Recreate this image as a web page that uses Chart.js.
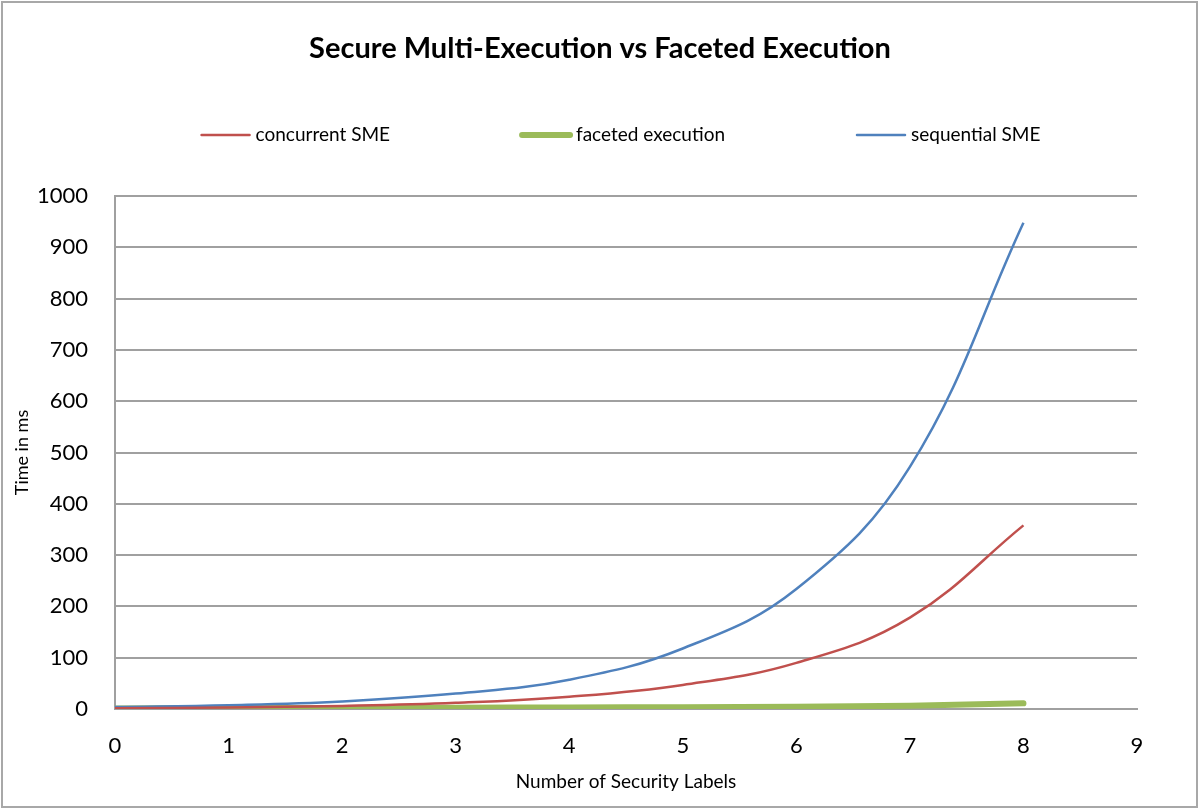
<!DOCTYPE html>
<html>
<head>
<meta charset="utf-8">
<script src="https://cdn.jsdelivr.net/npm/chart.js@4/dist/chart.umd.min.js"></script>
<style>
  html, body { margin: 0; padding: 0; background: #fff; }
  #wrap { width: 1199px; height: 809px; }
</style>
</head>
<body>
<div id="wrap"><canvas id="c" width="1199" height="809"></canvas></div>
<script>
const chartTitle = "Secure Multi-Execution vs Faceted Execution";
const xTitle = "Number of Security Labels";
const yTitle = "Time in ms";
const xValues = [0, 1, 2, 3, 4, 5, 6, 7, 8];
const concurrentSME = [1.5, 3, 6, 12, 24, 47, 90, 178, 358];
const facetedExecution = [1, 1.5, 2, 2.5, 3, 3.5, 4.5, 6.5, 11];
const sequentialSME = [3.7, 7.4, 14.8, 30, 57, 118, 234, 472, 948];
const seriesNames = ["concurrent SME", "faceted execution", "sequential SME"];
const seriesColors = ["#C0504D", "#9BBB59", "#4F81BD"];
const seriesWidths = [2.5, 6, 2.5];

const FONT = "Lato, 'Open Sans', sans-serif";
const GRID = "#a0a0a0";

function pts(vals) { return xValues.map((x, i) => ({ x: x, y: vals[i] })); }

const decor = {
  id: 'decor',
  beforeDraw(chart) {
    const ctx = chart.ctx;
    ctx.save();
    ctx.fillStyle = '#fff';
    ctx.fillRect(0, 0, chart.width, chart.height);
    ctx.strokeStyle = '#a8a8a8';
    ctx.lineWidth = 2;
    ctx.strokeRect(2, 2, chart.width - 4, chart.height - 4);
    ctx.restore();
  },
  afterDraw(chart) {
    const ctx = chart.ctx;
    ctx.save();
    // title
    ctx.fillStyle = '#000';
    ctx.font = "bold 29px " + FONT;
    ctx.textAlign = 'center';
    ctx.textBaseline = 'middle';
    ctx.fillText(chartTitle, 600, 49);
    // legend
    ctx.font = "19px " + FONT;
    const lineLen = 52, gapLT = 4, gapItems = 130;
    const ds = chart.data.datasets;
    const widths = ds.map(d => lineLen + gapLT + ctx.measureText(d.label).width);
    const total = widths.reduce((a, b) => a + b, 0) + gapItems * (ds.length - 1);
    let x = 620 - total / 2;
    const y = 135;
    ds.forEach((d, i) => {
      ctx.strokeStyle = d.borderColor;
      ctx.lineWidth = d.borderWidth;
      ctx.lineCap = 'round';
      ctx.beginPath();
      ctx.moveTo(x + 2, y);
      ctx.lineTo(x + lineLen - 2, y);
      ctx.stroke();
      ctx.fillStyle = '#000';
      ctx.textAlign = 'left';
      ctx.textBaseline = 'middle';
      ctx.fillText(d.label, x + lineLen + gapLT, y);
      x += widths[i] + gapItems;
    });
    ctx.restore();
  }
};

new Chart(document.getElementById('c'), {
  type: 'line',
  data: {
    datasets: [
      { label: seriesNames[0], data: pts(concurrentSME), borderColor: seriesColors[0], borderWidth: seriesWidths[0], order: 1 },
      { label: seriesNames[1], data: pts(facetedExecution), borderColor: seriesColors[1], borderWidth: seriesWidths[1], order: 3, borderCapStyle: 'round' },
      { label: seriesNames[2], data: pts(sequentialSME), borderColor: seriesColors[2], borderWidth: seriesWidths[2], order: 2 }
    ]
  },
  options: {
    responsive: false,
    animation: false,
    events: [],
    layout: { padding: { top: 196, left: 0, right: 62, bottom: 0 } },
    elements: {
      point: { radius: 0, hoverRadius: 0 },
      line: { tension: 0.4, fill: false, cubicInterpolationMode: 'default' }
    },
    plugins: {
      legend: { display: false },
      title: { display: false },
      tooltip: { enabled: false }
    },
    scales: {
      x: {
        type: 'linear',
        min: 0, max: 9,
        afterFit(s) { s.height = 100; },
        grid: { display: false, drawTicks: false },
        border: { display: true, color: GRID, width: 2 },
        ticks: { stepSize: 1, color: '#000', font: { family: FONT, size: 22 }, padding: 24, maxRotation: 0 },
        title: { display: true, text: xTitle, color: '#000', font: { family: FONT, size: 19 }, padding: { top: 0, bottom: 16 } }
      },
      y: {
        min: 0, max: 1000,
        afterFit(s) { s.width = 115; },
        grid: { color: GRID, lineWidth: 2, drawTicks: false },
        border: { display: true, color: GRID, width: 2 },
        ticks: { stepSize: 100, color: '#000', font: { family: FONT, size: 22 }, padding: 27, callback: v => String(v) },
        title: { display: true, text: yTitle, color: '#000', font: { family: FONT, size: 18 }, padding: { top: 11, bottom: 0 } }
      }
    }
  },
  plugins: [decor]
});
</script>
</body>
</html>
